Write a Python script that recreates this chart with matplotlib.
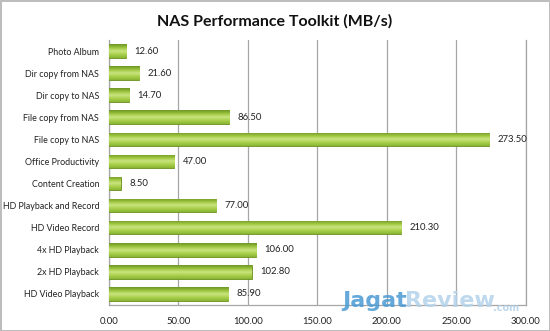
import numpy as np
import matplotlib.pyplot as plt
from matplotlib.colors import LinearSegmentedColormap

categories = ['Photo Album', 'Dir copy from NAS', 'Dir copy to NAS', 'File copy from NAS',
              'File copy to NAS', 'Office Productivity', 'Content Creation',
              'HD Playback and Record', 'HD Video Record', '4x HD Playback',
              '2x HD Playback', 'HD Video Playback']
values = [12.60, 21.60, 14.70, 86.50, 273.50, 47.00, 8.50, 77.00, 210.30, 106.00, 102.80, 85.90]
xticks = [0, 50, 100, 150, 200, 250, 300]

plt.rcParams['font.family'] = ['Lato', 'DejaVu Sans']

fig = plt.figure(figsize=(5.5, 3.31), dpi=100)
fig.patch.set_edgecolor('#BDBDBD')
fig.patch.set_linewidth(2)
ax = fig.add_axes([0.198, 0.079, 0.758, 0.80])

y = np.arange(len(categories))
bars = ax.barh(y, values, height=0.62, color='#8DB834', edgecolor='#6B8F1F', linewidth=0.6, zorder=3)

# gradient fill for the bars
cmap = LinearSegmentedColormap.from_list('g', ['#6E9624', '#9CC43E', '#C9E57F', '#A9CF4C', '#8AB534'])
grad = np.linspace(0, 1, 64).reshape(-1, 1)
for b in bars:
    x0, y0 = b.get_x(), b.get_y()
    w, h = b.get_width(), b.get_height()
    im = ax.imshow(grad, cmap=cmap, aspect='auto', extent=[x0, x0 + w, y0 + h, y0], zorder=3.5)
    im.set_clip_path(b)

for yi, v in zip(y, values):
    ax.text(v + 6, yi, f'{v:.2f}', va='center', ha='left', fontsize=6.8, color='#222222', zorder=5)

ax.set_xlim(0, 300)
ax.set_ylim(len(categories) - 0.5, -0.5)
ax.set_yticks(y)
ax.set_yticklabels(categories, fontsize=6.4, color='#222222')
ax.set_xticks(xticks)
ax.set_xticklabels([f'{t:.2f}' for t in xticks], fontsize=6.8, color='#222222')
ax.tick_params(axis='y', length=0, pad=7)
ax.tick_params(axis='x', length=0, pad=9)
ax.grid(axis='x', color='#A6A6A6', linewidth=0.9, zorder=0)
ax.spines['top'].set_visible(False)
for s in ['left', 'bottom', 'right']:
    ax.spines[s].set_color('#A6A6A6')
    ax.spines[s].set_linewidth(0.9)

fig.text(0.5, 0.935, 'NAS Performance Toolkit (MB/s)', ha='center', va='center',
         fontsize=11.5, fontweight='bold', color='#111111')

# watermark, pieces placed one after the other
renderer = fig.canvas.get_renderer()
x = 342 / 550
for word, col, size, yy in [('Jagat', '#4A9AD4', 16, 0.09), ('Review', '#B3D2EA', 16, 0.09),
                            ('.com', '#B3D2EA', 7, 0.068)]:
    t = fig.text(x, yy, word, ha='left', va='center', fontsize=size, fontweight='bold',
                 family='DejaVu Sans', color=col, alpha=0.85, zorder=10)
    bb = t.get_window_extent(renderer)
    x = bb.x1 / fig.bbox.width - 0.003

fig.savefig('out.png', dpi=100)
